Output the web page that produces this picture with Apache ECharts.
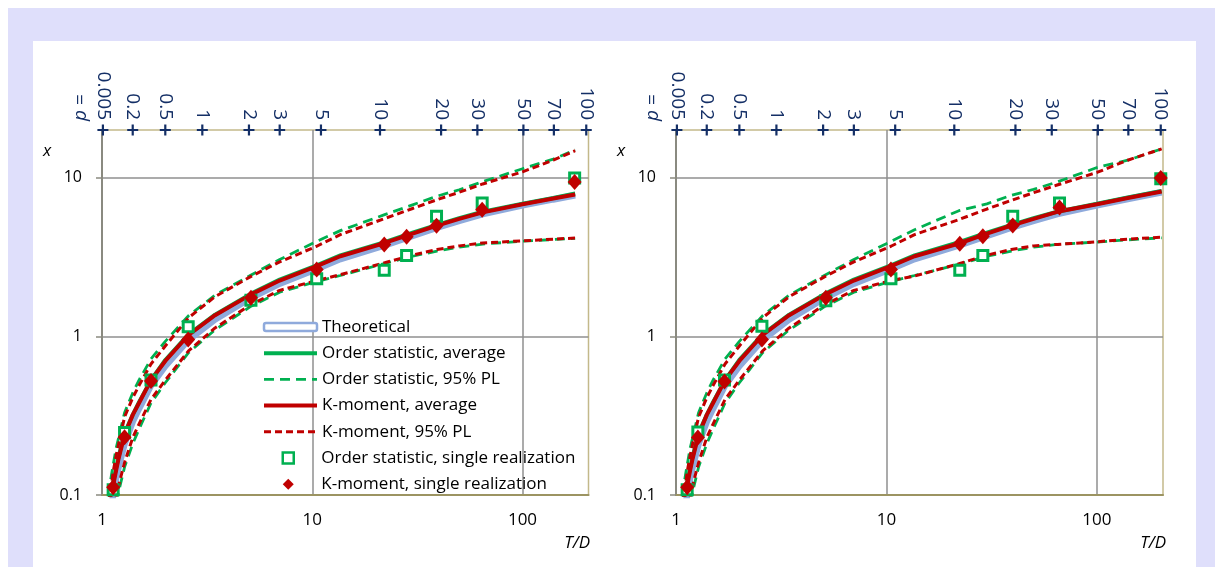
<!DOCTYPE html>
<html><head><meta charset="utf-8">
<script src="https://cdn.jsdelivr.net/npm/echarts@6/dist/echarts.min.js"></script>
<style>
html,body{margin:0;padding:0;background:#fff;width:1215px;height:567px;overflow:hidden}
#frame{position:absolute;left:8px;top:8px;width:1207px;height:559px;background:#dfdffb}
#panel{position:absolute;left:33px;top:41px;width:1163px;height:526px;background:#fff}
#chart{position:absolute;left:0;top:0;width:1215px;height:567px}
</style></head><body>
<div id="frame"></div><div id="panel"></div><div id="chart"></div>
<script>
// ---- data: left panel ----
const lineTD_L = [1.07,1.10,1.13,1.17,1.20,1.28,1.40,1.50,1.71,2.00,2.58,3.45,5.12,7.00,10.5,13.6,22.1,30.0,39.2,50.0,64.7,100,140,178];
const theoL   = [0.06,0.08,0.10,0.13,0.15,0.21,0.29,0.35,0.49,0.65,0.95,1.28,1.75,2.15,2.66,3.07,3.75,4.30,4.85,5.35,5.90,6.70,7.30,7.75];
const osAvgL  = [0.085,0.105,0.12,0.15,0.175,0.245,0.32,0.385,0.53,0.71,1.03,1.37,1.86,2.28,2.80,3.24,3.93,4.50,5.05,5.56,6.10,6.85,7.45,7.95];
const osUpL   = [0.10,0.125,0.155,0.20,0.23,0.33,0.44,0.53,0.72,0.93,1.35,1.82,2.44,3.05,3.97,4.64,5.85,6.75,7.65,8.40,9.45,11.4,13.1,15.0];
const osLoL   = [0.045,0.06,0.072,0.09,0.105,0.15,0.21,0.26,0.38,0.51,0.79,1.10,1.55,1.90,2.22,2.42,2.88,3.20,3.45,3.65,3.82,3.98,4.08,4.15];
const kmAvgL  = [0.08,0.10,0.115,0.145,0.17,0.24,0.32,0.38,0.53,0.70,1.02,1.36,1.84,2.25,2.77,3.20,3.88,4.45,5.00,5.50,6.05,6.80,7.40,7.85];
const kmUpL   = [0.09,0.105,0.14,0.18,0.21,0.31,0.41,0.49,0.67,0.87,1.31,1.78,2.39,2.95,3.70,4.38,5.53,6.40,7.27,8.10,9.14,10.9,12.9,14.8];
const kmLoL   = [0.05,0.065,0.08,0.098,0.115,0.16,0.23,0.28,0.40,0.53,0.81,1.13,1.59,1.95,2.25,2.45,2.91,3.25,3.53,3.72,3.88,4.00,4.10,4.17];
const ptTD_L  = [1.13,1.28,1.71,2.57,5.11,10.5,22.0,28.1,39.0,64.3,177];
const osPtL   = [0.108,0.248,0.53,1.15,1.69,2.31,2.61,3.23,5.71,6.93,9.96];
const kmPtL   = [0.112,0.231,0.524,0.957,1.75,2.64,3.79,4.24,4.99,6.29,9.40];
// ---- data: right panel ----
const lineTD_R = [1.07,1.10,1.13,1.17,1.20,1.28,1.40,1.50,1.71,2.00,2.58,3.45,5.12,7.00,10.5,13.6,22.1,30.0,39.2,50.0,64.7,100,140,203];
const theoR   = [0.06,0.08,0.10,0.13,0.15,0.21,0.29,0.35,0.49,0.65,0.95,1.28,1.75,2.15,2.66,3.07,3.75,4.30,4.85,5.35,5.90,6.70,7.35,8.10];
const osAvgR  = [0.085,0.105,0.12,0.15,0.175,0.245,0.32,0.385,0.53,0.71,1.03,1.37,1.86,2.28,2.80,3.24,3.93,4.50,5.05,5.56,6.10,6.85,7.50,8.25];
const osUpR   = [0.10,0.125,0.155,0.20,0.23,0.33,0.44,0.53,0.72,0.93,1.35,1.82,2.44,3.05,3.97,4.70,6.20,6.85,7.75,8.45,9.40,11.6,12.9,15.2];
const osLoR   = [0.045,0.06,0.072,0.09,0.105,0.15,0.21,0.26,0.38,0.51,0.79,1.10,1.55,1.90,2.22,2.42,2.85,3.20,3.45,3.65,3.80,3.93,4.06,4.18];
const kmAvgR  = [0.08,0.10,0.115,0.145,0.17,0.24,0.32,0.38,0.53,0.70,1.02,1.36,1.84,2.25,2.77,3.20,3.85,4.45,5.00,5.50,6.10,6.80,7.45,8.20];
const kmUpR   = [0.09,0.105,0.14,0.18,0.21,0.31,0.41,0.49,0.67,0.87,1.31,1.78,2.39,2.95,3.70,4.38,5.45,6.35,7.20,8.05,9.00,10.8,12.9,15.2];
const kmLoR   = [0.05,0.065,0.08,0.098,0.115,0.16,0.23,0.28,0.40,0.53,0.81,1.13,1.59,1.95,2.25,2.40,2.87,3.25,3.53,3.72,3.80,3.95,4.10,4.22];
const ptTD_R  = [1.13,1.27,1.70,2.56,5.15,10.5,22.3,28.7,39.8,66.4,201];
const osPtR   = [0.108,0.25,0.53,1.16,1.68,2.31,2.61,3.23,5.71,6.93,9.85];
const kmPtR   = [0.112,0.23,0.52,0.957,1.75,2.64,3.83,4.27,5.00,6.50,9.96];
// ---- top p axis ----
const pLabels = ['0.005','0.2','0.5','1','2','3','5','10','20','30','50','70','100'];
const pTD     = [1.01,1.4,2,3,5,7,11,21,41,61,101,141,201];
const X_MIN = 1, X_MAX = 206, Y_MIN = 0.1, Y_MAX = 20;

const NAMES = {
  theo:'Theoretical', osAvg:'Order statistic, average', osPL:'Order statistic, 95% PL',
  kmAvg:'K-moment, average', kmPL:'K-moment, 95% PL',
  osPt:'Order statistic, single realization', kmPt:'K-moment, single realization'
};
const C = {blue:'#8faadc', green:'#00b050', red:'#c00000', navy:'#142f66'};
const FONT = "'Open Sans', sans-serif";
const zip = (xs, ys) => xs.map((x,i)=>[x, ys[i]]);

function powLabel(v){
  const l = Math.log10(v), r = Math.round(l);
  if (Math.abs(l - r) > 1e-6) return '';
  return r < 0 ? Math.pow(10, r).toFixed(-r) : String(Math.round(Math.pow(10, r)));
}
function pLabel(v){
  for (let i = 0; i < pTD.length; i++) if (Math.abs(pTD[i] - v) / pTD[i] < 1e-4) return pLabels[i];
  return '';
}

function panelSeries(g, td, theo, osAvg, osUp, osLo, kmAvg, kmUp, kmLo, ptTD, osPt, kmPt){
  const base = {xAxisIndex:g, yAxisIndex:g, showSymbol:false, symbol:'none', animation:false, smooth:false};
  const s = [];
  s.push(Object.assign({}, base, {type:'line', name:NAMES.theo, data:zip(td, theo), lineStyle:{color:C.blue, width:6.5}, itemStyle:{color:C.blue}}));
  s.push(Object.assign({}, base, {type:'line', name:NAMES.osAvg, data:zip(td, osAvg), lineStyle:{color:C.green, width:4}, itemStyle:{color:C.green}}));
  s.push(Object.assign({}, base, {type:'line', name:NAMES.osPL, data:zip(td, osUp), lineStyle:{color:C.green, width:2.8, type:[10,6]}, itemStyle:{color:C.green}}));
  s.push(Object.assign({}, base, {type:'line', name:NAMES.osPL, data:zip(td, osLo), lineStyle:{color:C.green, width:2.8, type:[10,6]}, itemStyle:{color:C.green}}));
  s.push(Object.assign({}, base, {type:'line', name:NAMES.kmAvg, data:zip(td, kmAvg), lineStyle:{color:C.red, width:4}, itemStyle:{color:C.red}}));
  s.push(Object.assign({}, base, {type:'line', name:NAMES.kmPL, data:zip(td, kmUp), lineStyle:{color:C.red, width:3, type:[7,4]}, itemStyle:{color:C.red}}));
  s.push(Object.assign({}, base, {type:'line', name:NAMES.kmPL, data:zip(td, kmLo), lineStyle:{color:C.red, width:3, type:[7,4]}, itemStyle:{color:C.red}}));
  s.push({type:'scatter', name:NAMES.osPt, xAxisIndex:g, yAxisIndex:g, data:zip(ptTD, osPt), symbol:'rect', symbolSize:10,
          itemStyle:{color:'#fff', borderColor:C.green, borderWidth:3, opacity:1}, animation:false, z:3});
  s.push({type:'scatter', name:NAMES.kmPt, xAxisIndex:g, yAxisIndex:g, data:zip(ptTD, kmPt), symbol:'diamond', symbolSize:[14,16],
          itemStyle:{color:C.red, opacity:1}, animation:false, z:4});
  // '+' marks of the top p axis
  s.push({type:'scatter', name:'p'+g, xAxisIndex:g, yAxisIndex:g, data:pTD.map(t=>[t, Y_MAX]), clip:false,
          symbol:'path://M4,0H6V4H10V6H6V10H4V6H0V4H4Z', symbolSize:11, itemStyle:{color:C.navy, opacity:1}, animation:false, z:5, silent:true});
  return s;
}

function xAx(g){
  return {type:'log', logBase:10, gridIndex:g, min:X_MIN, max:X_MAX,
    axisLine:{show:true, onZero:false, lineStyle:{color:'#9c9462', width:2}},
    axisTick:{show:false}, minorTick:{show:false},
    splitLine:{show:true, showMaxLine:false, lineStyle:{color:'#8f8f8f', width:1.5}},
    axisLabel:{formatter:powLabel, fontSize:17, color:'#000', margin:17, fontFamily:FONT, showMaxLabel:false}};
}
function xTop(g){
  return {type:'log', logBase:10, gridIndex:g, min:X_MIN, max:X_MAX, position:'top',
    axisLine:{show:false}, axisTick:{show:false}, splitLine:{show:false}, minorTick:{show:false},
    axisLabel:{customValues:pTD, formatter:pLabel, rotate:90, margin:10, fontSize:19, color:C.navy, fontFamily:FONT,
               showMinLabel:true, showMaxLabel:true, hideOverlap:false}};
}
function yAx(g){
  return {type:'log', logBase:10, gridIndex:g, min:Y_MIN, max:Y_MAX,
    axisLine:{show:true, onZero:false, lineStyle:{color:'#8a8a80', width:2}},
    axisTick:{show:true, length:6, lineStyle:{color:'#8a8a80', width:1.5}},
    splitLine:{show:true, showMaxLine:false, lineStyle:{color:'#8f8f8f', width:1.5}},
    axisLabel:{formatter:powLabel, fontSize:16, color:'#000', margin:20, fontFamily:FONT, showMaxLabel:false}};
}

const chart = echarts.init(document.getElementById('chart'), null, {renderer:'canvas'});
const legendCommon = {orient:'vertical', itemGap:6.2, selectedMode:false,
  lineStyle:{width:'inherit'},
  textStyle:{fontSize:17, color:'#000', fontFamily:FONT, lineHeight:20}};
chart.setOption({
  backgroundColor:'transparent',
  animation:false,
  textStyle:{fontFamily:FONT},
  grid:[
    {left:102, top:130, right:1215-588.5, bottom:72, show:true, borderColor:'#c3b98a', borderWidth:1.5, backgroundColor:'transparent'},
    {left:676, top:130, right:1215-1163, bottom:72, show:true, borderColor:'#c3b98a', borderWidth:1.5, backgroundColor:'transparent'}
  ],
  xAxis:[xAx(0), xAx(1), xTop(0), xTop(1)],
  yAxis:[yAx(0), yAx(1)],
  legend:[
    Object.assign({}, legendCommon, {left:257, top:312, itemWidth:53, itemHeight:8, symbolKeepAspect:false, itemStyle:{opacity:0},
      data:[
        {name:NAMES.theo, icon:'roundRect', itemStyle:{opacity:1, color:'#fff', borderColor:C.blue, borderWidth:2.5}},
        {name:NAMES.osAvg}, {name:NAMES.osPL}, {name:NAMES.kmAvg}, {name:NAMES.kmPL}
      ]}),
    Object.assign({}, legendCommon, {left:276.5, top:312+5*26.2, itemWidth:11, itemHeight:11, symbolKeepAspect:true,
      textStyle:Object.assign({}, legendCommon.textStyle, {padding:[0,0,0,22.5]}),
      data:[
        {name:NAMES.osPt, icon:'rect', itemStyle:{color:'#fff', borderColor:C.green, borderWidth:2.5, opacity:1}},
        {name:NAMES.kmPt, icon:'diamond', itemStyle:{color:C.red, opacity:1}}
      ]})
  ],
  graphic:[
    {type:'text', x:47, y:151, style:{text:'x', font:'italic 17px '+FONT, fill:'#000', align:'center', verticalAlign:'middle'}},
    {type:'text', x:621, y:151, style:{text:'x', font:'italic 17px '+FONT, fill:'#000', align:'center', verticalAlign:'middle'}},
    {type:'text', x:590, y:543, style:{text:'T/D', font:'italic 17px '+FONT, fill:'#000', align:'right', verticalAlign:'middle'}},
    {type:'text', x:1166, y:543, style:{text:'T/D', font:'italic 17px '+FONT, fill:'#000', align:'right', verticalAlign:'middle'}},
    {type:'text', x:81, y:121, rotation:Math.PI/2, style:{text:'{i|p} =', rich:{i:{fontStyle:'italic', fontSize:19, fontFamily:FONT, fill:C.navy}}, fontSize:19, fontFamily:FONT, fill:C.navy, align:'left', verticalAlign:'middle'}},
    {type:'text', x:653, y:121, rotation:Math.PI/2, style:{text:'{i|p} =', rich:{i:{fontStyle:'italic', fontSize:19, fontFamily:FONT, fill:C.navy}}, fontSize:19, fontFamily:FONT, fill:C.navy, align:'left', verticalAlign:'middle'}}
  ],
  series:[].concat(
    panelSeries(0, lineTD_L, theoL, osAvgL, osUpL, osLoL, kmAvgL, kmUpL, kmLoL, ptTD_L, osPtL, kmPtL),
    panelSeries(1, lineTD_R, theoR, osAvgR, osUpR, osLoR, kmAvgR, kmUpR, kmLoR, ptTD_R, osPtR, kmPtR)
  )
});
</script>
</body></html>
